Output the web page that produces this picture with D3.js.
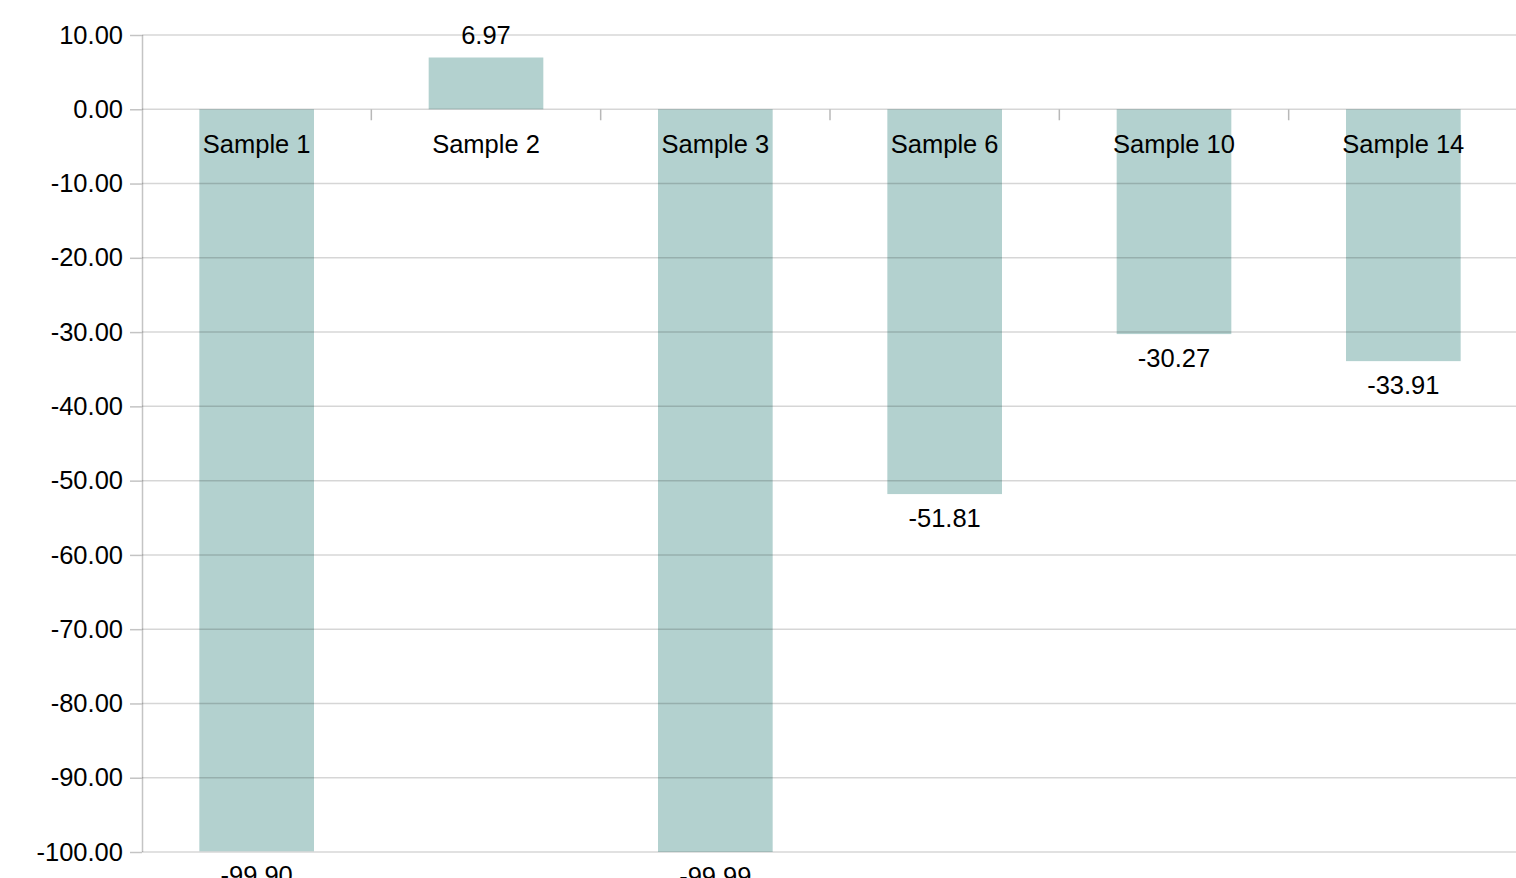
<!DOCTYPE html>
<html>
<head>
<meta charset="utf-8">
<title></title>
<style>
  html, body { margin: 0; padding: 0; background: #fff; }
  svg { display: block; }
</style>
</head>
<body>
<div id="chart"></div>
<script src="https://cdn.jsdelivr.net/npm/d3@7/dist/d3.min.js"></script>
<script>
var categories = ['Sample 1', 'Sample 2', 'Sample 3', 'Sample 6', 'Sample 10', 'Sample 14'];
var values = [-99.90, 6.97, -99.99, -51.81, -30.27, -33.91];
var yTicks = [10, 0, -10, -20, -30, -40, -50, -60, -70, -80, -90, -100];

var width = 1516, height = 878;
var plotLeft = 142, plotRight = 1518, plotTop = 35, plotBottom = 852;
var fontSize = '25.5px';

var svg = d3.select('#chart').append('svg')
  .attr('width', width).attr('height', height)
  .style('font-family', '"Liberation Sans", Arial, sans-serif');

var x = d3.scaleBand().domain(categories).range([plotLeft, plotRight]).paddingInner(0.5).paddingOuter(0.25);
var xb = d3.scaleBand().domain(categories).range([plotLeft, plotRight]);
var y = d3.scaleLinear().domain([-100, 10]).range([plotBottom, plotTop]);

function fmt(d) { return d.toFixed(2); }

// bars
svg.append('g').selectAll('rect').data(values).enter().append('rect')
  .attr('x', function(d, i) { return x(categories[i]); })
  .attr('width', x.bandwidth())
  .attr('y', function(d) { return y(Math.max(0, d)); })
  .attr('height', function(d) { return Math.abs(y(d) - y(0)); })
  .attr('fill', '#b3d1cf');

// y axis
var yAxis = d3.axisLeft(y).tickValues(yTicks).tickSize(12).tickPadding(7).tickFormat(fmt);
var gy = svg.append('g').attr('transform', 'translate(' + plotLeft + ',0)').call(yAxis);
gy.select('.domain').attr('stroke', '#c4c4c4').attr('stroke-width', 1.5)
  .attr('d', 'M0.5,' + plotTop + 'V' + plotBottom);
gy.selectAll('.tick line').attr('stroke', '#c4c4c4').attr('stroke-width', 1.5);
gy.selectAll('.tick text').attr('fill', '#000').style('font-size', fontSize)
  .style('font-family', '"Liberation Sans", Arial, sans-serif');

// grid lines, drawn over the bars
svg.append('g').selectAll('line').data(yTicks).enter().append('line')
  .attr('x1', plotLeft).attr('x2', width)
  .attr('y1', function(d) { return y(d); }).attr('y2', function(d) { return y(d); })
  .attr('stroke', 'rgba(0,0,0,0.16)').attr('stroke-width', 1.5);

// x ticks at category boundaries on the zero line
svg.append('g').selectAll('line').data(categories.slice(1)).enter().append('line')
  .attr('x1', function(d) { return xb(d); }).attr('x2', function(d) { return xb(d); })
  .attr('y1', y(0)).attr('y2', y(0) + 11)
  .attr('stroke', '#b8b8b8').attr('stroke-width', 1.5);

// category labels
svg.append('g').selectAll('text').data(categories).enter().append('text')
  .attr('x', function(d) { return x(d) + x.bandwidth() / 2; })
  .attr('y', y(0) + 44)
  .attr('text-anchor', 'middle')
  .style('font-size', fontSize)
  .attr('fill', '#000')
  .text(function(d) { return d; });

// value labels
svg.append('g').selectAll('text').data(values).enter().append('text')
  .attr('x', function(d, i) { return x(categories[i]) + x.bandwidth() / 2; })
  .attr('y', function(d) { return d >= 0 ? y(d) - 14 : y(d) + 33; })
  .attr('text-anchor', 'middle')
  .style('font-size', fontSize)
  .attr('fill', '#000')
  .text(fmt);
</script>
</body>
</html>
